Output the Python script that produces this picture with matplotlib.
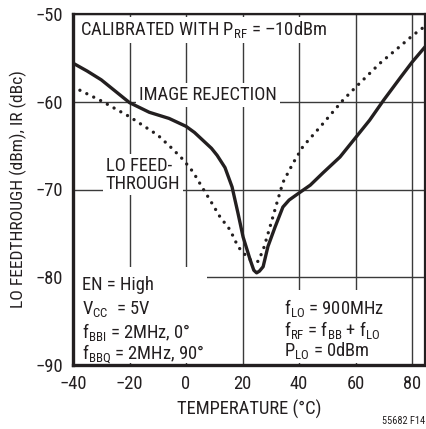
import matplotlib
matplotlib.use("Agg")
import matplotlib.pyplot as plt
from matplotlib import font_manager
from matplotlib.patches import Rectangle

entries = font_manager.fontManager.ttflist
names = {f.name for f in entries}
FONT = "DejaVu Sans"
STRETCH = "normal"
for cand in ["Liberation Sans Narrow", "Roboto Condensed", "Open Sans Condensed"]:
    if cand in names:
        FONT = cand
        break
else:
    if any(f.name == "DejaVu Sans" and 'Condensed' in f.fname and 'Bold' not in f.fname
           and 'Oblique' not in f.fname for f in entries):
        STRETCH = "condensed"

plt.rcParams['font.family'] = [FONT, 'DejaVu Sans']
plt.rcParams['font.stretch'] = STRETCH
plt.rcParams['mathtext.fontset'] = 'custom'
mt = FONT + (":stretch=condensed" if STRETCH == "condensed" else "")
plt.rcParams['mathtext.rm'] = mt
plt.rcParams['mathtext.it'] = mt
plt.rcParams['mathtext.default'] = 'regular'

# Data
ir_temp = [-40, -35, -30, -25, -20, -13, -6, 0, 3, 6, 9, 11, 13.8, 16.3, 18.4, 20.2, 22.7, 24,
           25, 26, 27.3, 29, 31.5, 34.3, 36.5, 40, 44, 48.5, 54.5, 60, 65, 70, 76, 80, 85]
ir_val = [-55.6, -56.5, -57.5, -58.8, -60.1, -61.2, -61.9, -62.8, -63.5, -64.4, -65.3, -66.1,
          -67.5, -69.7, -72.7, -75.4, -78.0, -79.2, -79.5, -79.3, -78.8, -76.5, -74.3, -72.0,
          -71.2, -70.4, -69.5, -68.1, -66.3, -64.1, -62.1, -59.8, -57.2, -55.5, -53.6]

lo_temp = [-40, -30, -20, -10, -5, -1, 2.5, 6, 8.5, 12, 15.6, 18.4, 20.2, 22.7, 25.5, 27.3,
           29.7, 32.2, 34.3, 37.9, 41.4, 47.4, 55.6, 60.2, 68.7, 75.7, 80.4, 85]
lo_val = [-58.3, -59.9, -61.7, -63.8, -65.3, -66.6, -68.0, -69.9, -71.2, -73.1, -74.6, -76.5,
          -77.2, -78.0, -78.2, -76.9, -74.3, -71.5, -69.2, -67.0, -65.1, -62.9, -59.8, -58.3,
          -55.6, -53.7, -52.4, -51.3]

xticks = [-40, -20, 0, 20, 40, 60, 80]
yticks = [-90, -80, -70, -60, -50]

INK = '#231f20'
FS = 13.3

W, H = 426, 429
fig = plt.figure(figsize=(W / 100, H / 100), dpi=100)
ax = fig.add_axes([73 / W, 1 - 365 / H, 352 / W, 351 / H])
ax.set_xlim(-40, 84.6)
ax.set_ylim(-90, -50)
ax.set_xticks(xticks)
ax.set_yticks(yticks)
ax.tick_params(length=0, labelsize=FS, labelcolor=INK)
ax.tick_params(axis='x', pad=7)
ax.tick_params(axis='y', pad=7)
ax.grid(True, color='#3a3a3a', linewidth=1.0)
ax.set_axisbelow(True)
for s in ['left', 'bottom']:
    ax.spines[s].set_linewidth(2.4)
    ax.spines[s].set_color(INK)
for s in ['top', 'right']:
    ax.spines[s].set_linewidth(1.6)
    ax.spines[s].set_color(INK)

ax.plot(ir_temp, ir_val, color=INK, linewidth=2.4, zorder=5,
        solid_capstyle='round', solid_joinstyle='round')
ax.plot(lo_temp, lo_val, color=INK, linewidth=2.4, linestyle=(0, (0.01, 2.3)),
        dash_capstyle='round', zorder=5)

ax.set_xlabel('TEMPERATURE (°C)', fontsize=FS, labelpad=5, color=INK)
ax.set_ylabel('LO FEEDTHROUGH (dBm), IR (dBc)', fontsize=12.6, labelpad=6, color=INK)

bb = dict(facecolor='white', edgecolor='none', pad=2)
tk = dict(fontsize=FS, color=INK, zorder=3)

ax.text(-37.4, -51.8, r'CALIBRATED WITH P$_{\mathregular{RF}}$ = –10dBm', ha='left', va='center', bbox=bb, **tk)
ax.text(-16.6, -59.25, 'IMAGE REJECTION', ha='left', va='center', bbox=bb, **tk)
ax.text(-15.2, -68.3, 'LO FEED-\nTHROUGH', ha='center', va='center', multialignment='left',
        linespacing=1.0, bbox=bb, **tk)

# white panels behind the condition notes (interrupt the grid like the original)
ax.add_patch(Rectangle((-39.3, -89.75), 46.7, 10.95, facecolor='white', edgecolor='none', zorder=2))
ax.add_patch(Rectangle((33.3, -89.75), 40.7, 8.3, facecolor='white', edgecolor='none', zorder=2))

ll = ['EN = High',
      r'V$_{\mathregular{CC}}$  = 5V',
      r'f$_{\mathregular{BBI}}$ = 2MHz, 0°',
      r'f$_{\mathregular{BBQ}}$ = 2MHz, 90°']
ll_y = [-80.9, -83.6, -86.2, -88.75]
for s, y in zip(ll, ll_y):
    ax.text(-36.9, y, s, ha='left', va='center', **tk)

lr = [r'f$_{\mathregular{LO}}$ = 900MHz',
      r'f$_{\mathregular{RF}}$ = f$_{\mathregular{BB}}$ + f$_{\mathregular{LO}}$',
      r'P$_{\mathregular{LO}}$ = 0dBm']
lr_y = [-83.5, -86.0, -88.4]
for s, y in zip(lr, lr_y):
    ax.text(34.6, y, s, ha='left', va='center', **tk)

fig.text(425 / W, 1 - 421 / H, '55682 F14', ha='right', va='center', fontsize=7.5, color=INK)

fig.savefig('out.png', dpi=100)
